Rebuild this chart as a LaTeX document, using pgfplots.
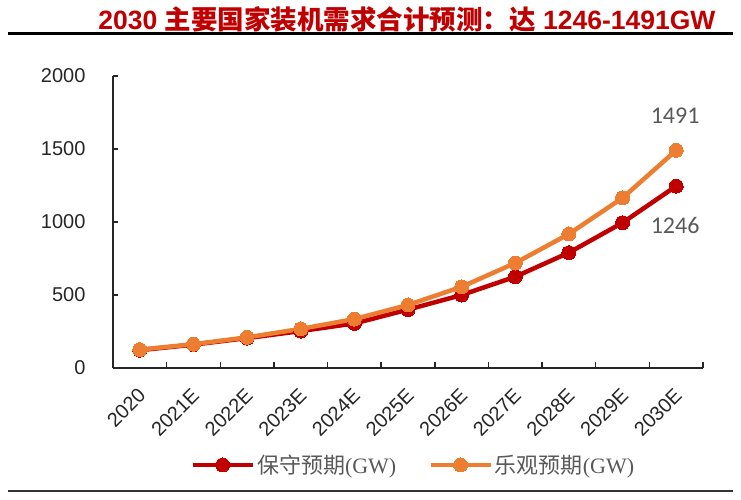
\documentclass[border=0pt]{standalone}
\usepackage{fontspec}
\setmainfont{Liberation Sans}
\newfontfamily\cjk{Noto Sans CJK SC}
\newfontfamily\serifl{Liberation Serif}
\newfontfamily\cali{Carlito}
\usepackage{pgfplots}
\pgfplotsset{compat=1.18}
\definecolor{cred}{HTML}{C00000}
\definecolor{corange}{HTML}{ED7D31}
\definecolor{tred}{HTML}{C00000}
\definecolor{axgray}{HTML}{262626}
\definecolor{lgray}{HTML}{595959}
\begin{document}
\begin{tikzpicture}[x=1pt,y=1pt]
\path (0,0) rectangle (741,499);
\draw[line width=3pt,black] (8,465) -- (733,465);
\draw[line width=2.5pt,black!80] (8,8) -- (733,8);
\node[text=tred,font=\fontsize{26.5}{28}\selectfont\bfseries,inner sep=0pt] at (407,480)
  {2030 {\cjk\bfseries 主要国家装机需求合计预测：达} 1246-1491GW};
\begin{axis}[
  at={(113pt,131pt)}, anchor=south west,
  scale only axis, width=590pt, height=292pt,
  xmin=-0.5, xmax=10.5, ymin=0, ymax=2000,
  clip=false,
  axis x line=bottom, axis y line=left,
  axis line style={-, line width=2pt, axgray},
  xtick={0,...,10},
  xticklabels={2020,2021E,2022E,2023E,2024E,2025E,2026E,2027E,2028E,2029E,2030E},
  major x tick style={draw=none},
  minor xtick={-0.5,0.5,...,10.5},
  minor tick length=6pt,
  minor x tick style={line width=1.5pt, axgray},
  x tick label style={rotate=45, anchor=east, font=\fontsize{20}{21}\selectfont, text=axgray, yshift=-18.5pt, xshift=-12pt},
  ytick={0,500,1000,1500,2000},
  major tick length=5pt,
  tick align=inside,
  y tick style={line width=1.5pt, axgray},
  y tick label style={font=\fontsize{20}{22}\selectfont, text=axgray, xshift=-24pt},
  /pgf/number format/assume math mode=true,
  /pgf/number format/1000 sep={},
  legend columns=2,
  legend style={at={(0.509,-0.332)}, anchor=center, draw=none, fill=none,
    font=\fontsize{22}{23}\selectfont, text=lgray,
    /tikz/every even column/.append style={column sep=30pt}},
  legend image code/.code={\draw[#1,mark repeat=2,mark phase=2] plot coordinates {(0pt,0pt) (30pt,0pt) (60pt,0pt)};},
]
\addplot[cred, line width=4.5pt, mark=*, mark size=7pt, mark options={line width=0pt}]
  coordinates {(0,122) (1,160) (2,205) (3,253) (4,305) (5,400) (6,500) (7,625) (8,790) (9,995) (10,1246)};
\addlegendentry{{\cjk 保守预期}{\serifl (GW)}}
\addplot[corange, line width=4.5pt, mark=*, mark size=7pt, mark options={line width=0pt}]
  coordinates {(0,126) (1,163) (2,210) (3,268) (4,335) (5,432) (6,556) (7,719) (8,918) (9,1165) (10,1491)};
\addlegendentry{{\cjk 乐观预期}{\serifl (GW)}}
\node[font=\cali\fontsize{24}{26}\selectfont, text=lgray] at (axis cs:9.98,1726) {1491};
\node[font=\cali\fontsize{24}{26}\selectfont, text=lgray] at (axis cs:9.98,979) {1246};
\end{axis}
\end{tikzpicture}
\end{document}
